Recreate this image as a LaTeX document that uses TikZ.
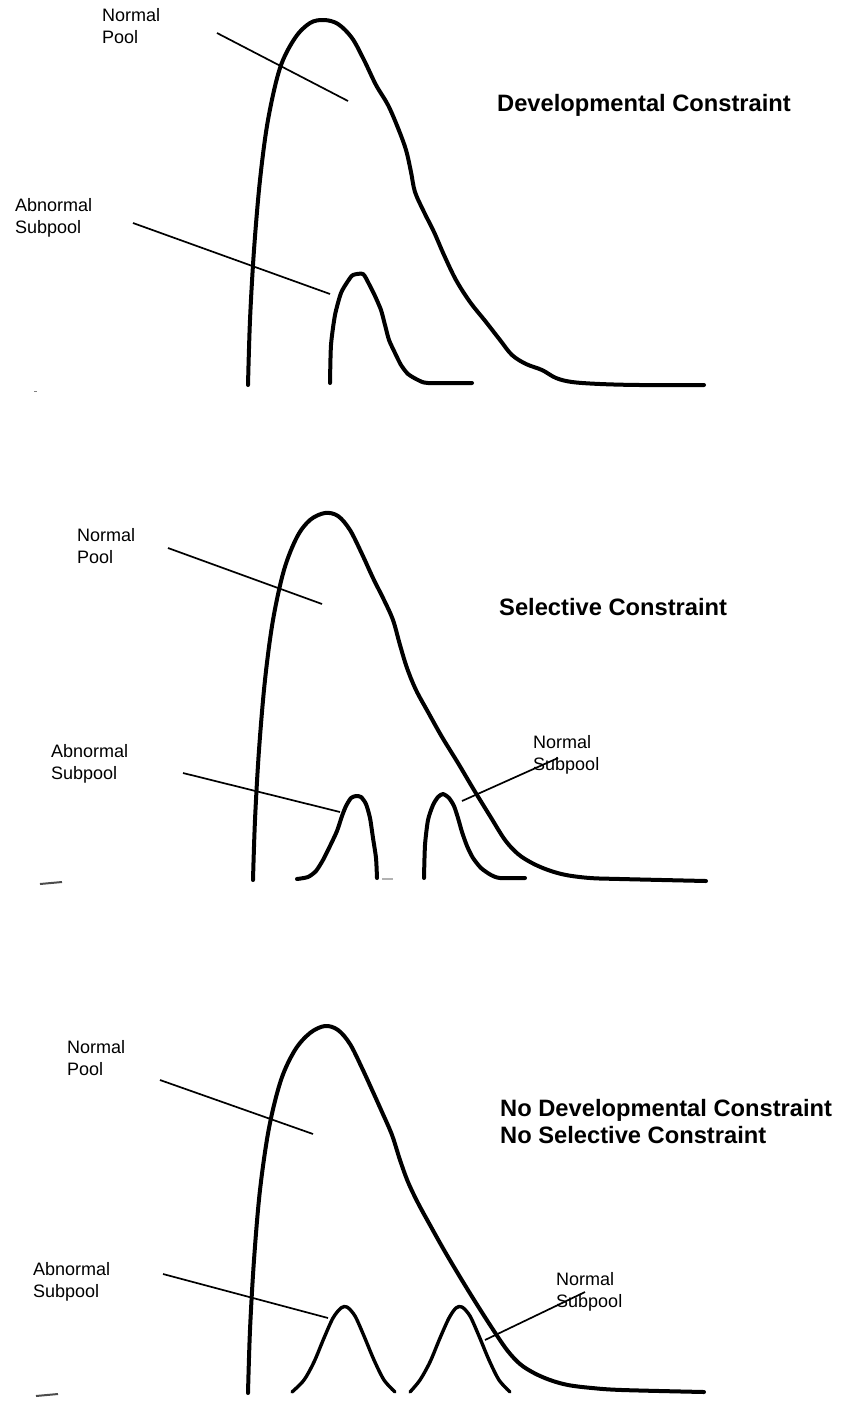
\documentclass[tikz,border=0pt]{standalone}
\usepackage{fontspec}
\setmainfont{Liberation Sans}
\begin{document}
\begin{tikzpicture}[x=1pt,y=-1pt,
  curve/.style={line width=4pt, line join=round, line cap=round},
  lbl/.style={line width=1.7pt},
  txt/.style={anchor=north west, inner sep=0pt, align=left, font=\fontsize{18}{22}\selectfont},
  ttl/.style={anchor=base west, inner sep=0pt, align=left, font=\bfseries\fontsize{23.7}{27}\selectfont},
  tick/.style={line width=2pt, black!70}]
\useasboundingbox (0,0) rectangle (844,1401);

% ---------------- top: developmental constraint
\node[txt] (np1) at (102,8) {Normal\\Pool};
\node[ttl] (t1) at (497,111) {Developmental Constraint};
\node[txt] (as1) at (15,198) {Abnormal\\Subpool};
\coordinate (np1a) at (217,33); \coordinate (np1b) at (348,101);
\coordinate (as1a) at (133,223); \coordinate (as1b) at (330,294);
\draw[lbl] (np1a) -- (np1b);
\draw[lbl] (as1a) -- (as1b);
\draw[curve] plot[smooth, tension=0.55] coordinates {(248,385) (250,320) (254,250) (260,180) (268,120) (280,68) (295,38) (310,23) (324,20) (338,24) (352,38) (364,60) (376,85) (388,105) (398,128) (406,150) (411,172) (415,192) (424,212) (434,232) (444,255) (456,280) (470,302) (486,322) (500,340) (512,355) (526,364) (542,370) (556,378) (572,382) (600,384) (640,385) (704,385)};
\draw[curve] plot[smooth, tension=0.4] coordinates {(330,383) (331,345) (335,315) (341,293) (348,281) (353,275) (363,274) (369,284) (375,296) (381,310) (385,325) (389,340) (395,353) (401,365) (408,374) (418,380) (428,383) (472,383)};
\draw[black!50, line width=1pt] (34,391) -- (37,391);

% ---------------- middle: selective constraint
\node[txt] (np2) at (77,528) {Normal\\Pool};
\node[ttl] (t2) at (499,615) {Selective Constraint};
\node[txt] (as2) at (51,744) {Abnormal\\Subpool};
\node[txt] (ns2) at (533,735) {Normal\\Subpool};
\draw[lbl] (168,548) coordinate (np2a) -- (322,604) coordinate (np2b);
\draw[lbl] (183,773) coordinate (as2a) -- (340,812) coordinate (as2b);
\draw[lbl] (462,801) coordinate (ns2a) -- (558,758) coordinate (ns2b);
\draw[curve] plot[smooth, tension=0.55] coordinates {(253,880) (255,820) (259,750) (265,680) (273,620) (284,570) (297,537) (310,520) (325,513) (338,516) (350,530) (362,554) (373,578) (384,600) (393,620) (400,645) (407,668) (416,690) (428,712) (442,737) (458,763) (474,790) (490,816) (505,840) (518,854) (532,863) (548,870) (566,875) (590,878) (620,879) (706,881)};
\draw[curve] plot[smooth, tension=0.4] coordinates {(297,879) (308,877) (316,871) (323,860) (330,846) (337,831) (342,816) (346,806) (351,798) (356,796) (361,797) (366,804) (370,818) (373,838) (376,858) (377,878)};
\draw[curve] plot[smooth, tension=0.4] coordinates {(424,878) (425,845) (428,820) (433,805) (438,797) (443,794) (449,798) (454,806) (458,818) (462,832) (467,846) (473,858) (481,868) (491,875) (500,878) (525,878)};
\draw[black!30, line width=1.5pt] (382,879) -- (393,879);
\draw[tick] (40,884) -- (62,882);

% ---------------- bottom: no constraint
\node[txt] (np3) at (67,1040) {Normal\\Pool};
\node[ttl] (t3) at (500,1143) {No Developmental Constraint\\No Selective Constraint};
\node[txt] (as3) at (33,1262) {Abnormal\\Subpool};
\node[txt] (ns3) at (556,1272) {Normal\\Subpool};
\draw[lbl] (160,1080) coordinate (np3a) -- (313,1134) coordinate (np3b);
\draw[lbl] (163,1274) coordinate (as3a) -- (328,1318) coordinate (as3b);
\draw[lbl] (485,1340) coordinate (ns3a) -- (585,1292) coordinate (ns3b);
\draw[curve] plot[smooth, tension=0.55] coordinates {(248,1393) (250,1330) (254,1260) (260,1190) (269,1128) (281,1080) (295,1050) (310,1033) (325,1026) (338,1030) (350,1044) (362,1068) (373,1092) (382,1112) (392,1135) (400,1160) (408,1182) (418,1203) (430,1225) (444,1250) (460,1277) (476,1303) (492,1328) (507,1350) (520,1364) (534,1373) (550,1380) (568,1385) (592,1388) (622,1390) (704,1392)};
\draw[curve, line width=3.4pt] plot[smooth, tension=0.5] coordinates {(292,1392) (304,1380) (314,1362) (324,1338) (333,1318) (341,1308) (347,1307) (355,1316) (364,1336) (374,1360) (384,1380) (395,1392)};
\draw[curve, line width=3.4pt] plot[smooth, tension=0.5] coordinates {(410,1392) (420,1380) (430,1362) (440,1338) (449,1318) (456,1308) (462,1307) (470,1316) (479,1336) (489,1360) (499,1380) (510,1392)};
\draw[tick] (36,1396) -- (58,1394);
\end{tikzpicture}
\end{document}
